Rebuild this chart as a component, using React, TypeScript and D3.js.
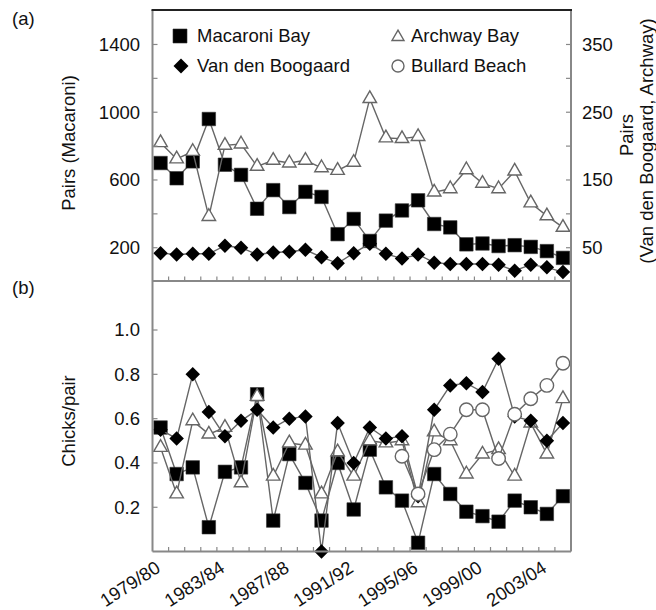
import React from 'react';
import * as d3 from 'd3';

// seasons 1979/80 .. 2004/05
const seasons = [
  '1979/80', '1980/81', '1981/82', '1982/83', '1983/84', '1984/85', '1985/86', '1986/87', '1987/88',
  '1988/89', '1989/90', '1990/91', '1991/92', '1992/93', '1993/94', '1994/95', '1995/96', '1996/97',
  '1997/98', '1998/99', '1999/00', '2000/01', '2001/02', '2002/03', '2003/04', '2004/05',
];
const tickSeasons = ['1979/80', '1983/84', '1987/88', '1991/92', '1995/96', '1999/00', '2003/04'];

// (a) breeding pairs
const macaroniPairs = [700, 610, 710, 960, 690, 630, 430, 540, 440, 530, 500, 280, 370, 240, 360, 420, 480, 340, 320, 220, 225, 210, 215, 205, 180, 140];
const vdbPairs = [42, 40, 41, 41, 53, 50, 40, 43, 44, 47, 36, 27, 42, 56, 41, 34, 40, 28, 26, 26, 26, 25, 16, 25, 21, 14];
const archwayPairs = [205, 181, 192, 96, 201, 203, 170, 179, 175, 179, 168, 164, 176, 270, 212, 211, 214, 132, 137, 165, 145, 137, 163, 116, 97, 80];

// (b) chicks per pair
const macaroniChicks = [0.56, 0.35, 0.38, 0.11, 0.36, 0.38, 0.71, 0.14, 0.44, 0.31, 0.14, 0.4, 0.19, 0.46, 0.29, 0.23, 0.04, 0.35, 0.26, 0.18, 0.16, 0.135, 0.23, 0.2, 0.17, 0.25];
const vdbChicks = [0.55, 0.51, 0.8, 0.63, 0.52, 0.59, 0.64, 0.56, 0.6, 0.61, 0.0, 0.58, 0.4, 0.56, 0.51, 0.52, 0.25, 0.64, 0.75, 0.76, 0.72, 0.87, 0.61, 0.59, 0.5, 0.58];
const archwayChicks = [0.47, 0.26, 0.59, 0.53, 0.56, 0.31, 0.7, 0.34, 0.49, 0.48, 0.26, 0.45, 0.34, 0.5, 0.49, 0.5, 0.22, 0.54, 0.5, 0.35, 0.44, 0.46, 0.34, 0.58, 0.44, 0.69];
const bullardChicks: (number | null)[] = [null, null, null, null, null, null, null, null, null, null, null, null, null, null, null, 0.43, 0.26, 0.46, 0.53, 0.64, 0.64, 0.42, 0.62, 0.69, 0.75, 0.85];

const leftTicksA = [200, 600, 1000, 1400];
const leftMinorA = [400, 800, 1200];
const rightTicksA = [50, 150, 250, 350];
const rightMinorA = [100, 200, 300];
const ticksB = [0.2, 0.4, 0.6, 0.8, 1.0];

const FONT = '"Liberation Sans", Arial, sans-serif';
const FS = 18.5;
const LINE = '#666';
const FRAME = '#888';

const L = 152.5, R = 571, TOP = 10, MID = 281, BOT = 551.5;

const x = d3.scaleLinear().domain([-0.5, seasons.length - 0.5]).range([L, R]);
const yL = d3.scaleLinear().domain([0, 1600]).range([281.6, 10.6]);
const yR = d3.scaleLinear().domain([0, 400]).range([281.6, 10.6]);
const yB = d3.scaleLinear().domain([0, 1]).range([551.6, 330]);

const sq = (s: number) => `M${-s},${-s}H${s}V${s}H${-s}Z`;
const dia = (s: number) => `M0,${-s}L${s},0L0,${s}L${-s},0Z`;
const tri = (w: number) => {
  const h = w * Math.sqrt(3) / 2;
  return `M0,${-h * 2 / 3}L${w / 2},${h / 3}L${-w / 2},${h / 3}Z`;
};

type Kind = 'sq' | 'dia' | 'tri' | 'circ';

function Marker({ kind, cx, cy, size }: { kind: Kind; cx: number; cy: number; size: number }) {
  if (kind === 'circ') return <circle cx={cx} cy={cy} r={size / 2} fill="#fff" stroke={LINE} strokeWidth={1.4} />;
  if (kind === 'tri') return <path d={tri(size)} transform={`translate(${cx},${cy})`} fill="#fff" stroke={LINE} strokeWidth={1.4} />;
  if (kind === 'dia') return <path d={dia(size / 2 + 0.5)} transform={`translate(${cx},${cy})`} fill="#000" />;
  return <path d={sq(size / 2)} transform={`translate(${cx},${cy})`} fill="#000" stroke="#333" strokeWidth={0.6} />;
}

function Series({ values, y, kind }: { values: (number | null)[]; y: d3.ScaleLinear<number, number>; kind: Kind }) {
  const line = d3.line<number | null>()
    .defined(d => d != null)
    .x((_, i) => x(i))
    .y(d => y(d as number));
  return (
    <g>
      <path d={line(values) || ''} fill="none" stroke={LINE} strokeWidth={1.4} />
      {values.map((v, i) => v == null ? null : (
        <Marker key={i} kind={kind} cx={x(i)} cy={y(v)} size={kind === 'tri' ? 13.5 : 13.5} />
      ))}
    </g>
  );
}

export default function App() {
  const halfTicks = d3.range(seasons.length - 1).map(i => i + 0.5);
  return (
    <svg width={656} height={610} style={{ position: 'absolute', left: 0, top: 0, background: '#fff' }}
      fontFamily={FONT} fontSize={FS}>
      <rect width={656} height={610} fill="#fff" />

      {/* panel (a) lines */}
      <Series values={macaroniPairs} y={yL} kind="sq" />
      <Series values={archwayPairs} y={yR} kind="tri" />
      <Series values={vdbPairs} y={yR} kind="dia" />

      {/* panel (b) lines */}
      <Series values={macaroniChicks} y={yB} kind="sq" />
      <Series values={archwayChicks} y={yB} kind="tri" />
      <Series values={vdbChicks} y={yB} kind="dia" />
      <Series values={bullardChicks} y={yB} kind="circ" />

      {/* frames */}
      <g stroke={FRAME} strokeWidth={2} fill="none">
        <line x1={L} x2={L} y1={TOP} y2={BOT} />
        <line x1={R} x2={R} y1={TOP} y2={BOT} />
        <line x1={L} x2={R} y1={MID} y2={MID} />
        <line x1={L} x2={R} y1={BOT} y2={BOT} />
        {halfTicks.map(t => <line key={'a' + t} x1={x(t)} x2={x(t)} y1={MID} y2={MID - 4.5} strokeWidth={1.2} />)}
        {halfTicks.map(t => <line key={'b' + t} x1={x(t)} x2={x(t)} y1={BOT} y2={BOT - 4.5} strokeWidth={1.2} />)}
        {[...leftTicksA, ...leftMinorA].map(t => <line key={'l' + t} x1={L} x2={L + 5} y1={yL(t)} y2={yL(t)} strokeWidth={1.2} />)}
        {[...rightTicksA, ...rightMinorA].map(t => <line key={'r' + t} x1={R} x2={R - 5} y1={yR(t)} y2={yR(t)} strokeWidth={1.2} />)}
        {ticksB.map(t => <line key={'bl' + t} x1={L} x2={L + 5} y1={yB(t)} y2={yB(t)} strokeWidth={1.2} />)}
      </g>
      <line x1={L - 1} x2={R + 1} y1={TOP} y2={TOP} stroke="#222" strokeWidth={2} />

      {/* tick labels */}
      <g fill="#111">
        {leftTicksA.map(t => <text key={t} x={140} y={yL(t)} dy="0.35em" textAnchor="end">{t}</text>)}
        {rightTicksA.map(t => <text key={t} x={582} y={yR(t)} dy="0.35em">{t}</text>)}
        {ticksB.map(t => <text key={t} x={140} y={yB(t)} dy="0.35em" textAnchor="end">{t.toFixed(1)}</text>)}
        {tickSeasons.map(s => {
          const xi = x(seasons.indexOf(s)) + 1;
          return <text key={s} transform={`translate(${xi},571) rotate(-33)`} textAnchor="end">{s}</text>;
        })}
      </g>

      {/* axis titles */}
      <g fill="#111">
        <text transform="translate(69,143) rotate(-90)" textAnchor="middle" dy="0.35em">Pairs (Macaroni)</text>
        <text transform="translate(69,421) rotate(-90)" textAnchor="middle" dy="0.35em">Chicks/pair</text>
        <text transform="translate(627,135) rotate(-90)" textAnchor="middle" dy="0.35em">Pairs</text>
        <text transform="translate(647,141) rotate(-90)" textAnchor="middle" dy="0.35em">(Van den Boogaard, Archway)</text>
        <text x={12} y={25}>(a)</text>
        <text x={12} y={294}>(b)</text>
      </g>

      {/* legend */}
      <g fill="#111">
        <Marker kind="sq" cx={180} cy={36} size={14} />
        <text x={197} y={36} dy="0.35em">Macaroni Bay</text>
        <Marker kind="dia" cx={181} cy={66} size={14} />
        <text x={197} y={66} dy="0.35em">Van den Boogaard</text>
        <Marker kind="tri" cx={398} cy={37} size={12} />
        <text x={411} y={36} dy="0.35em">Archway Bay</text>
        <Marker kind="circ" cx={398} cy={66} size={12} />
        <text x={411} y={66} dy="0.35em">Bullard Beach</text>
      </g>
    </svg>
  );
}
